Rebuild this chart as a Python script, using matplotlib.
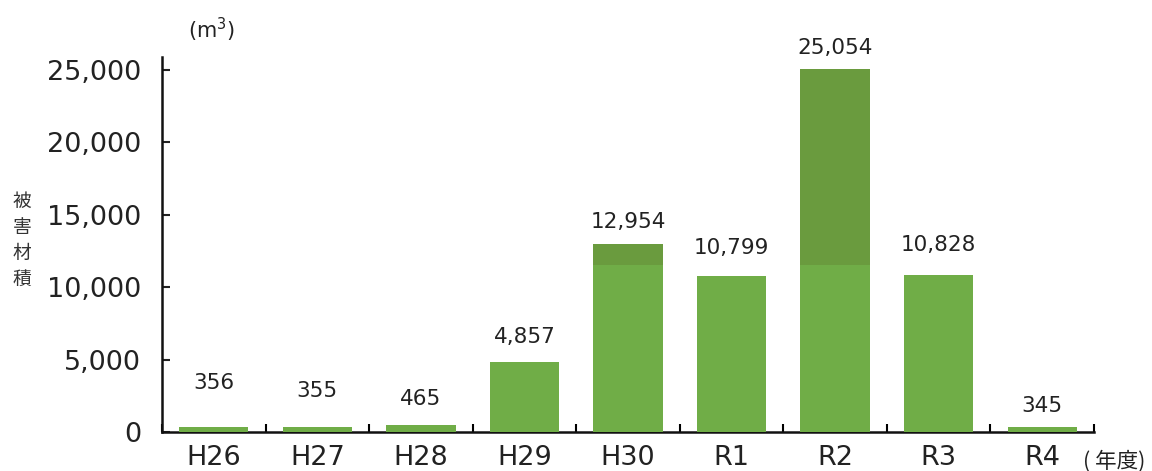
import numpy as np
import matplotlib
matplotlib.use("Agg")
import matplotlib.pyplot as plt
from matplotlib.ticker import FuncFormatter

plt.rcParams['font.family'] = ['DejaVu Sans', 'Noto Sans CJK JP']

# damaged timber volume by fiscal year
years = ['H26', 'H27', 'H28', 'H29', 'H30', 'R1', 'R2', 'R3', 'R4']
volume = [356, 355, 465, 4857, 12954, 10799, 25054, 10828, 345]
# vertical gap (pixels) between bar top and its value label
label_gap = [44, 36, 26, 25, 22, 28, 21, 30, 21]

light_green = '#70ad47'
dark_green = '#6a9b3e'
split_level = 11500

fig = plt.figure(figsize=(11.52, 4.71), dpi=100)
ax = fig.add_axes([0.1406, 0.0828, 0.8091, 0.7962])

x = np.arange(len(years))
vals = np.array(volume)
ax.bar(x, vals, width=0.67, color=dark_green, zorder=2)
ax.bar(x, np.minimum(vals, split_level), width=0.67, color=light_green, zorder=3)

for xi, v, gap in zip(x, volume, label_gap):
    ax.annotate(f'{v:,}', (xi, v), xytext=(0, gap), textcoords='offset pixels',
                ha='center', va='center', fontsize=15.5, color='#222222')

ax.set_xlim(-0.5, len(years) - 0.5)
ax.set_ylim(0, 25900)
ax.set_yticks(np.arange(0, 25001, 5000))
ax.yaxis.set_major_formatter(FuncFormatter(lambda v, p: f'{int(v):,}'))
ax.tick_params(axis='y', direction='in', length=6, width=1.5, labelsize=19.5,
               pad=15, colors='#222222')

# x ticks sit on category boundaries, labels at centres
ax.set_xticks(np.arange(-0.5, len(years)), minor=False)
ax.set_xticklabels([])
ax.set_xticks(x, minor=True)
ax.set_xticklabels(years, minor=True)
ax.tick_params(axis='x', which='major', direction='in', length=6, width=1.5)
ax.tick_params(axis='x', which='minor', length=0, labelsize=19.5, pad=9,
               colors='#222222')

for side in ['top', 'right']:
    ax.spines[side].set_visible(False)
for side in ['left', 'bottom']:
    ax.spines[side].set_linewidth(1.8)
    ax.spines[side].set_color('#111111')

fig.text(0.019, 0.49, '\n'.join('被害材積'), ha='center', va='center',
         fontsize=13.5, linespacing=1.3, color='#333333',
         family=['Noto Sans CJK JP'])
fig.text(0.163, 0.936, '(m$^3$)', ha='left', va='center', fontsize=15,
         color='#222222')
fig.text(0.94, 0.021, '( 年度)', ha='left', va='center', fontsize=15.5,
         color='#222222', family=['Noto Sans CJK JP'])

fig.savefig('out.png', dpi=100)
